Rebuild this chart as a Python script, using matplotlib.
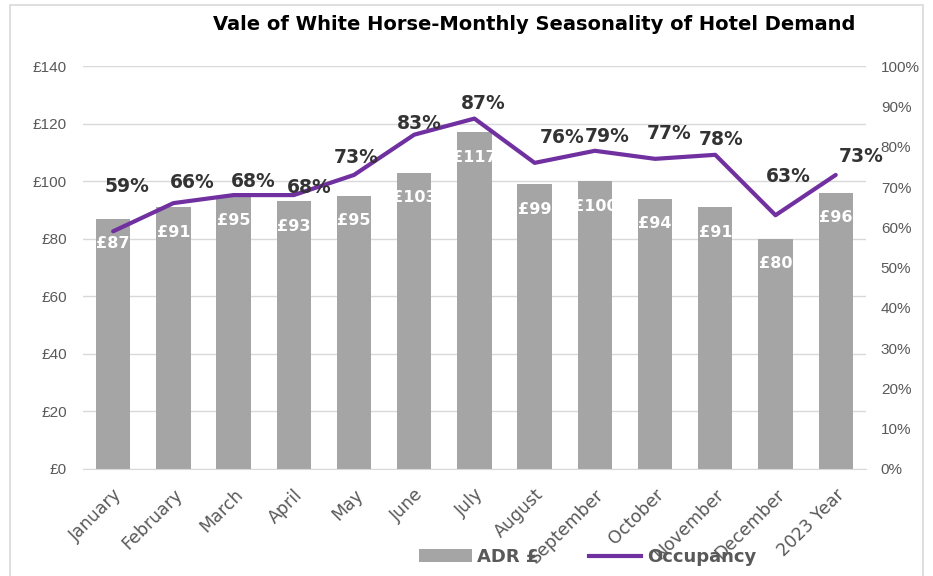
import matplotlib
matplotlib.use("Agg")
import matplotlib.pyplot as plt
from matplotlib.patches import Rectangle, Patch
from matplotlib.lines import Line2D
from matplotlib.ticker import FuncFormatter, MultipleLocator

categories = ["January", "February", "March", "April", "May", "June", "July",
              "August", "September", "October", "November", "December", "2023 Year"]
adr = [87, 91, 95, 93, 95, 103, 117, 99, 100, 94, 91, 80, 96]
occupancy = [59, 66, 68, 68, 73, 83, 87, 76, 79, 77, 78, 63, 73]

# label placement offsets (pixels) relative to each occupancy point
occ_dx = [14, 19, 20, 15, 2, 5, 9, 27, 12, 14, 6, 13, 25]
occ_dy = [45, 21, 14, 8, 17, 11, 15, 25, 14, 25, 15, 39, 18]

title = "Vale of White Horse-Monthly Seasonality of Hotel Demand"
bar_color = "#a5a5a5"
line_color = "#7030a0"
tick_color = "#595959"
grid_color = "#d9d9d9"
FONT = "DejaVu Sans"
TICKFONT = "Liberation Sans"

plt.rcParams['font.family'] = [FONT]

fig = plt.figure(figsize=(9.33, 5.76), dpi=100)
ax = fig.add_axes([0.089, 0.186, 0.839, 0.699])
ax2 = ax.twinx()

x = list(range(len(categories)))
ax.bar(x, adr, width=0.57, color=bar_color, zorder=2)
ax.set_ylim(0, 140)
ax.set_xlim(-0.5, len(categories) - 0.5)
ax.yaxis.set_major_locator(MultipleLocator(20))
ax.yaxis.set_major_formatter(FuncFormatter(lambda v, p: f"£{int(v)}"))
ax.grid(axis='y', color=grid_color, linewidth=1, zorder=0)
ax.set_axisbelow(True)
for s in ["top", "right", "left"]:
    ax.spines[s].set_visible(False)
    ax2.spines[s].set_visible(False)
ax.spines["bottom"].set_color(grid_color)
ax2.spines["bottom"].set_visible(False)
ax.tick_params(axis='y', length=0, colors=tick_color, labelsize=11, pad=11.5)
ax.tick_params(axis='x', length=0, colors=tick_color, labelsize=12.5, pad=12)
ax.set_xticks(x)
ax.set_xticklabels(categories, rotation=45, ha='right', rotation_mode='anchor')
for lab in ax.get_yticklabels():
    lab.set_fontfamily(TICKFONT)

for xi, v in zip(x, adr):
    ax.annotate(f"£{v}", (xi, v), xytext=(0, -25), textcoords='offset pixels',
                ha='center', va='center', color='white',
                fontsize=11.5, fontweight='bold', zorder=5)

ax2.plot(x, occupancy, color=line_color, linewidth=3, zorder=4,
         solid_capstyle='round', solid_joinstyle='round')
ax2.set_ylim(0, 100)
ax2.yaxis.set_major_locator(MultipleLocator(10))
ax2.yaxis.set_major_formatter(FuncFormatter(lambda v, p: f"{int(v)}%"))
ax2.tick_params(axis='y', length=0, colors=tick_color, labelsize=11, pad=10.8)
for lab in ax2.get_yticklabels():
    lab.set_fontfamily(TICKFONT)

for xi, v, dx, dy in zip(x, occupancy, occ_dx, occ_dy):
    ax2.annotate(f"{v}%", (xi, v), xytext=(dx, dy), textcoords='offset pixels',
                 ha='center', va='center', color='#333333', fontsize=13.5,
                 fontweight='bold', zorder=6)

fig.text(0.573, 0.957, title, ha='center', va='center', fontsize=14,
         fontweight='bold', color='black')

handles = [Patch(facecolor=bar_color, edgecolor='none'),
           Line2D([0], [0], color=line_color, linewidth=3)]
leg = fig.legend(handles, ["ADR £", "Occupancy"], loc='center',
                 bbox_to_anchor=(0.63, 0.033), ncol=2, frameon=False,
                 handlelength=2.9, columnspacing=2.8, handletextpad=0.3,
                 prop={'family': FONT, 'weight': 'bold', 'size': 13})
for t in leg.get_texts():
    t.set_color(tick_color)

fig.patches.append(Rectangle((10 / 933, -0.1), (923 - 10) / 933, 1.1 - 5 / 576,
                             transform=fig.transFigure, fill=False,
                             edgecolor=grid_color, linewidth=1.2))

fig.savefig("out.png", dpi=100)
